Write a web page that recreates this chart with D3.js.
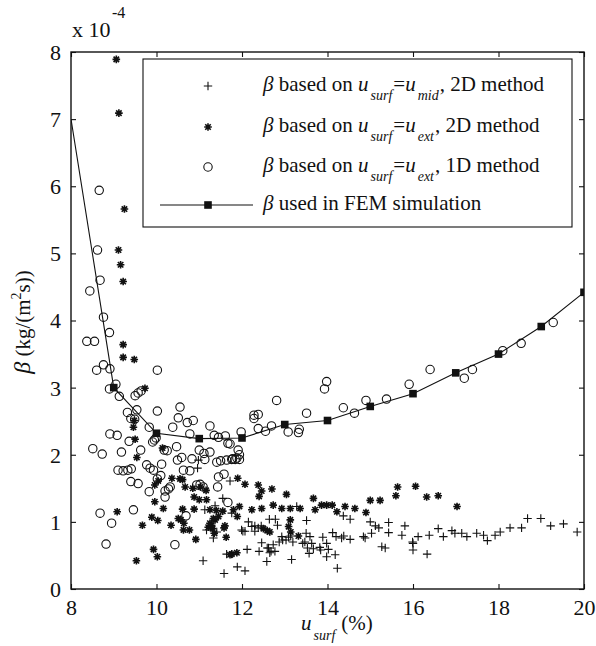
<!DOCTYPE html>
<html><head><meta charset="utf-8">
<script src="https://cdn.jsdelivr.net/npm/d3@7"></script>
<style>
body{margin:0;background:#fff}
svg{display:block}
text{font-family:"Liberation Serif","Times New Roman",Times,serif;fill:#111}
</style>
</head><body><svg id="c" width="596" height="646"></svg>
<script>
// ---------- data ----------
const xTicks = [8, 10, 12, 14, 16, 18, 20];
const yTicks = [0, 1, 2, 3, 4, 5, 6, 7, 8];

// beta used in FEM simulation (line + squares), x in %, beta in 1e-4
const femX = [8, 9, 10, 11, 12, 13, 14, 15, 16, 17, 18, 19, 20];
const femY = [7.0, 3.0, 2.32, 2.24, 2.25, 2.45, 2.51, 2.72, 2.91, 3.22, 3.50, 3.91, 4.42];

// beta based on u_surf = u_mid, 2D method  (+)
const midPts = [
 [10.96,1.80],[10.98,1.92],[11.13,1.18],[11.37,1.24],[11.55,1.35],[11.72,1.61],[11.76,1.13],[11.17,0.88],
 [11.41,0.85],[11.09,0.42],[11.58,0.23],[11.89,0.33],[12.07,0.27],[11.64,0.52],[11.76,0.52],[11.33,0.76],
 [12.15,1.00],[12.23,0.93],[12.30,0.94],[12.38,0.91],[12.45,0.94],[12.64,1.04],[12.78,1.04],[12.83,0.95],
 [12.30,0.86],[12.02,0.86],[11.99,0.88],[12.07,0.86],[12.93,0.78],[12.87,0.70],[12.95,0.73],[13.03,0.73],
 [13.09,0.77],[13.14,0.79],[13.19,0.70],[12.62,0.61],[12.68,0.56],[12.58,0.41],[12.12,0.59],[12.40,0.56],
 [12.46,0.69],[12.73,0.66],[12.77,0.56],[12.65,0.54],[12.59,0.61],[13.16,0.44],[13.42,0.68],[13.47,0.70],
 [13.67,0.60],[13.57,0.53],[13.53,0.61],[13.82,0.62],[14.02,0.59],[13.84,0.58],[13.98,0.48],[14.23,0.31],
 [13.28,1.23],[13.51,1.02],[13.50,0.83],[13.59,0.78],[13.63,0.68],[13.89,0.77],[13.98,0.68],[14.18,0.51],
 [14.12,0.84],[14.20,0.78],[14.33,0.76],[14.38,0.79],[14.53,0.74],[14.37,1.09],[14.53,1.04],[14.84,0.78],
 [14.88,0.76],[15.03,0.83],[15.12,0.94],[15.20,0.91],[15.00,1.00],[15.43,0.99],[15.43,0.84],[15.27,0.63],
 [15.35,0.61],[15.81,0.94],[15.74,0.80],[15.99,0.70],[16.00,0.68],[16.00,0.58],[16.12,0.78],[16.33,0.52],
 [16.38,0.80],[16.59,0.90],[16.71,0.78],[16.91,0.87],[16.98,0.83],[17.14,0.83],[17.26,0.78],[17.49,0.83],
 [17.65,0.80],[17.74,0.72],[17.92,0.80],[18.04,0.85],[18.27,0.91],[18.54,0.91],[18.68,1.05],[18.99,1.05],
 [19.22,0.94],[19.52,0.97],[19.84,0.85]
];

// beta based on u_surf = u_ext, 2D method  (*)
const extPts = [
 [9.06,7.89],[9.12,7.09],[9.25,5.66],[9.11,5.05],[9.16,4.83],[9.22,4.58],[9.22,3.64],[9.22,3.45],[9.48,3.42],
 [9.73,2.99],[9.48,2.51],[9.46,2.41],[9.50,2.23],[9.54,1.96],[10.14,2.10],[9.08,1.15],[9.67,0.95],[9.89,1.07],
 [10.03,1.02],[10.34,0.95],[10.63,0.88],[9.93,0.59],[10.02,0.48],[9.53,0.42],[9.96,1.30],[10.16,1.20],
 [9.96,1.55],[10.04,1.61],[10.36,1.65],[10.55,1.64],[10.61,1.63],[10.67,1.52],[10.85,1.50],[11.03,1.52],
 [11.16,1.47],[10.88,1.37],[11.00,1.33],[10.61,1.19],[10.88,1.19],[10.51,1.05],[10.57,1.03],[10.64,0.98],
 [10.77,0.88],[10.92,0.74],[11.21,0.92],[11.29,0.95],[11.37,1.03],[11.45,1.08],[11.60,0.94],[11.63,0.77],
 [11.76,0.52],[11.88,0.54],[11.25,1.18],[11.40,1.17],[11.55,1.16],[11.90,1.65],[11.17,1.33],[11.33,1.05],
 [11.25,0.98],[11.31,0.90],[11.35,0.83],[11.58,0.91],[12.07,1.56],[12.38,1.55],[12.46,1.46],[12.40,1.38],
 [12.70,1.49],[13.04,1.41],[13.67,1.35],[13.71,1.18],[13.86,1.25],[13.98,1.25],[14.11,1.25],[14.22,1.15],
 [14.41,1.23],[14.64,1.20],[14.90,1.14],[15.00,1.32],[15.23,1.32],[15.60,1.39],[15.64,1.52],[16.06,1.53],
 [16.32,1.37],[16.59,1.39],[17.03,1.23],[11.80,1.18],[11.94,1.23],[12.23,1.18],[12.46,1.20],[12.73,1.25],
 [12.93,1.20],[13.13,1.20],[13.36,1.20],[11.89,1.08],[12.50,0.90],[12.59,0.87],[12.65,0.85],[13.13,1.03],
 [13.09,0.93],[13.14,0.85],[13.32,0.79],[11.72,0.51]
];

// beta based on u_surf = u_ext, 1D method  (o)
const ext1Pts = [
 [8.66,5.94],[8.62,5.05],[8.68,4.60],[8.44,4.44],[8.76,4.05],[8.90,3.82],[8.37,3.69],[8.55,3.69],[8.60,3.26],
 [8.76,3.34],[8.91,3.28],[9.05,3.05],[8.90,2.98],[9.13,2.87],[10.02,3.26],[9.50,2.88],[9.57,2.92],[9.64,2.95],
 [9.32,2.63],[9.40,2.54],[9.49,2.53],[9.54,2.67],[10.02,2.65],[10.55,2.71],[10.51,2.55],[8.91,2.31],[9.08,2.29],
 [9.36,2.20],[8.51,2.09],[8.73,2.01],[9.18,2.04],[9.83,2.41],[9.91,2.19],[9.95,2.22],[9.99,2.25],[9.63,2.07],
 [10.38,2.41],[10.72,2.48],[10.86,2.51],[10.18,2.07],[10.25,2.06],[10.47,2.12],[10.78,2.31],[11.25,2.43],
 [11.35,2.29],[11.45,2.26],[11.61,2.28],[11.67,2.17],[11.00,2.07],[10.83,1.94],[11.11,2.02],[11.25,2.04],
 [11.13,1.93],[11.41,1.89],[11.50,1.91],[11.64,1.92],[11.78,1.94],[11.88,1.95],[10.49,1.92],[10.59,1.96],
 [10.63,1.77],[10.78,1.76],[9.10,1.77],[9.22,1.76],[9.33,1.77],[9.41,1.79],[9.77,1.85],[9.85,1.80],[9.93,1.77],
 [10.12,1.86],[10.10,1.69],[9.40,1.60],[9.57,1.57],[9.83,1.45],[10.02,1.64],[10.20,1.46],[10.28,1.49],
 [10.32,1.52],[10.20,1.37],[10.94,1.55],[11.02,1.56],[11.09,1.52],[11.45,1.67],[11.58,1.71],[11.43,1.52],
 [11.67,1.29],[10.69,1.09],[9.46,1.18],[8.95,0.98],[8.82,0.67],[8.68,1.13],[10.43,0.66],[11.72,2.16],
 [11.91,2.07],[11.94,2.00],[11.94,1.93],[11.76,1.93],[11.84,1.93],[11.98,2.34],[12.28,2.59],[12.38,2.60],
 [12.28,2.54],[12.38,2.39],[12.55,2.35],[12.69,2.43],[13.08,2.34],[13.32,2.33],[13.34,2.38],[12.81,2.81],
 [13.51,2.62],[13.98,3.09],[13.93,2.98],[14.37,2.70],[14.63,2.62],[14.90,2.81],[15.38,2.83],[15.91,3.05],
 [16.40,3.27],[17.20,3.14],[17.39,3.27],[18.10,3.55],[18.53,3.66],[19.28,3.97]
];

const legendLabels = [
  [["β", "i"], [" based on ", "n"], ["u", "i"], ["surf", "s"], ["=", "n"], ["u", "i"], ["mid", "s"], [", 2D method", "n"]],
  [["β", "i"], [" based on ", "n"], ["u", "i"], ["surf", "s"], ["=", "n"], ["u", "i"], ["ext", "s"], [", 2D method", "n"]],
  [["β", "i"], [" based on ", "n"], ["u", "i"], ["surf", "s"], ["=", "n"], ["u", "i"], ["ext", "s"], [", 1D method", "n"]],
  [["β", "i"], [" used in FEM simulation", "n"]]
];

// ---------- drawing ----------
const FONT = "'Liberation Serif','Times New Roman',Times,serif";
const svg = d3.select("#c");
const L = 71, R = 584, T = 52, B = 589;
const x = d3.scaleLinear().domain([8, 20]).range([L, R]);
const y = d3.scaleLinear().domain([0, 8]).range([B, T]);
const ink = "#111";

svg.append("defs").append("clipPath").attr("id", "pc")
  .append("rect").attr("x", L).attr("y", T).attr("width", R - L).attr("height", B - T);

// axes (ticks inward on all four sides)
const fs = 22;
const gB = svg.append("g").attr("transform", `translate(0,${B})`)
  .call(d3.axisBottom(x).tickValues(xTicks).tickSize(-5).tickPadding(0).tickFormat(d3.format("d")));
const gT = svg.append("g").attr("transform", `translate(0,${T})`)
  .call(d3.axisTop(x).tickValues(xTicks).tickSize(-5).tickFormat(""));
const gL = svg.append("g").attr("transform", `translate(${L},0)`)
  .call(d3.axisLeft(y).tickValues(yTicks).tickSize(-5).tickFormat(d3.format("d")));
const gR = svg.append("g").attr("transform", `translate(${R},0)`)
  .call(d3.axisRight(y).tickValues(yTicks).tickSize(-5).tickFormat(""));
[gB, gT, gL, gR].forEach(g => {
  g.attr("font-family", FONT);
  g.select(".domain").remove();
  g.selectAll(".tick line").attr("stroke", ink).attr("stroke-width", 1.1);
});
gB.selectAll(".tick text").attr("font-size", fs).attr("fill", ink).attr("y", 26).attr("dy", 0);
gL.selectAll(".tick text").attr("font-size", fs).attr("fill", ink).attr("x", -10).attr("dy", "0.34em");
svg.append("rect").attr("x", L).attr("y", T).attr("width", R - L).attr("height", B - T)
  .attr("fill", "none").attr("stroke", ink).attr("stroke-width", 1.4);

// exponent
svg.append("text").attr("x", 72).attr("y", 37).attr("font-size", fs).attr("font-family", FONT).text("x 10");
svg.append("text").attr("x", 112).attr("y", 18).attr("font-size", 16).attr("font-family", FONT).text("-4");

// y-axis label
const yl = svg.append("text").attr("transform", "translate(30,322) rotate(-90)")
  .attr("text-anchor", "middle").attr("font-size", 21).attr("font-family", FONT);
yl.append("tspan").attr("font-style", "italic").attr("font-size", 24).text("β");
yl.append("tspan").text(" (kg/(m");
yl.append("tspan").attr("font-size", 14).attr("dy", -9).text("2");
yl.append("tspan").attr("dy", 9).text("s))");

// x-axis label
const xl = svg.append("text").attr("x", 301).attr("y", 630).attr("font-size", 21).attr("font-family", FONT);
xl.append("tspan").attr("font-style", "italic").text("u");
xl.append("tspan").attr("font-style", "italic").attr("font-size", 14).attr("dy", 10).attr("dx", 2).text("surf");
xl.append("tspan").attr("dy", -10).attr("dx", 6).text("(%)");

// data layer
const plot = svg.append("g").attr("clip-path", "url(#pc)");

const line = d3.line().x((d, i) => x(femX[i])).y((d, i) => y(femY[i]));
plot.append("path").datum(femY).attr("d", line).attr("fill", "none").attr("stroke", ink).attr("stroke-width", 1.1);

function plusPath(s) { return `M${-s},0H${s}M0,${-s}V${s}`; }
function starPath(s) { const d = s * 0.72; return `M${-s},0H${s}M0,${-s}V${s}M${-d},${-d}L${d},${d}M${-d},${d}L${d},${-d}`; }

plot.selectAll(".mid").data(midPts).join("path").attr("class", "mid")
  .attr("transform", d => `translate(${x(d[0])},${y(d[1])})`)
  .attr("d", plusPath(4.2)).attr("stroke", ink).attr("stroke-width", 1.1).attr("fill", "none");

plot.selectAll(".ext").data(extPts).join("path").attr("class", "ext")
  .attr("transform", d => `translate(${x(d[0])},${y(d[1])})`)
  .attr("d", starPath(3.8)).attr("stroke", ink).attr("stroke-width", 1.6).attr("fill", "none");

plot.selectAll(".ext1").data(ext1Pts).join("circle").attr("class", "ext1")
  .attr("cx", d => x(d[0])).attr("cy", d => y(d[1])).attr("r", 4.2)
  .attr("fill", "none").attr("stroke", ink).attr("stroke-width", 1.1);

plot.selectAll(".fem").data(femY.slice(1)).join("rect").attr("class", "fem")
  .attr("x", (d, i) => x(femX[i + 1]) - 3.8).attr("y", d => y(d) - 3.8)
  .attr("width", 7.6).attr("height", 7.6).attr("fill", ink);

// legend
const lg = svg.append("g").attr("font-family", FONT);
lg.append("rect").attr("x", 143).attr("y", 59).attr("width", 429).attr("height", 168)
  .attr("fill", "#fff").attr("stroke", ink).attr("stroke-width", 1.1);
const rowY = [86, 127, 167, 205];
const mx = 208;
lg.append("path").attr("transform", `translate(${mx},${rowY[0]})`).attr("d", plusPath(4.2))
  .attr("stroke", ink).attr("stroke-width", 1.1);
lg.append("path").attr("transform", `translate(${mx},${rowY[1]})`).attr("d", starPath(3.8))
  .attr("stroke", ink).attr("stroke-width", 1.6);
lg.append("circle").attr("cx", mx).attr("cy", rowY[2]).attr("r", 4.2)
  .attr("fill", "none").attr("stroke", ink).attr("stroke-width", 1.1);
lg.append("line").attr("x1", 160).attr("x2", 253).attr("y1", rowY[3]).attr("y2", rowY[3])
  .attr("stroke", ink).attr("stroke-width", 1.1);
lg.append("rect").attr("x", mx - 3.8).attr("y", rowY[3] - 3.8).attr("width", 7.6).attr("height", 7.6).attr("fill", ink);

legendLabels.forEach((parts, r) => {
  const t = lg.append("text").attr("x", 263).attr("y", rowY[r] + 5).attr("font-size", 21);
  let down = false;
  parts.forEach(([s, k]) => {
    const sp = t.append("tspan").text(s);
    if (k === "i") sp.attr("font-style", "italic");
    if (k === "s") { sp.attr("font-style", "italic").attr("font-size", 14).attr("dy", 9).attr("dx", 2); down = true; }
    else if (down) { sp.attr("dy", -9).attr("dx", 1); down = false; }
  });
});
</script>
</body></html>
